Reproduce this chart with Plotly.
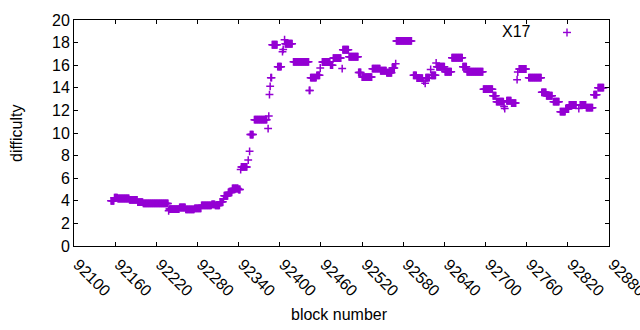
import plotly.graph_objects as go

# Runs of consecutive blocks sharing the same difficulty
run_start = [92154, 92159, 92164, 92181, 92193, 92201, 92238, 92239, 92254, 92263,
             92276, 92286, 92301, 92306, 92313, 92318, 92319, 92325, 92331, 92340,
             92343, 92344, 92354, 92356, 92357, 92363, 92383, 92384, 92385, 92386,
             92387, 92389, 92397, 92404, 92405, 92407, 92408, 92420, 92443, 92445,
             92454, 92459, 92462, 92474, 92478, 92491, 92492, 92501, 92515, 92520,
             92535, 92547, 92556, 92564, 92569, 92570, 92595, 92600, 92610, 92612,
             92613, 92620, 92621, 92628, 92629, 92641, 92651, 92667, 92673, 92697,
             92711, 92716, 92727, 92728, 92731, 92738, 92746, 92747, 92749, 92763,
             92782, 92789, 92799, 92809, 92817, 92822, 92836, 92838, 92847, 92858,
             92864]
run_end = [92158, 92163, 92180, 92192, 92200, 92237, 92238, 92253, 92262, 92275,
           92285, 92300, 92305, 92312, 92317, 92318, 92324, 92330, 92339, 92342,
           92343, 92352, 92354, 92356, 92361, 92381, 92383, 92384, 92385, 92386,
           92388, 92396, 92402, 92404, 92405, 92407, 92418, 92442, 92444, 92453,
           92458, 92459, 92473, 92477, 92489, 92491, 92500, 92514, 92518, 92534,
           92546, 92555, 92563, 92567, 92569, 92592, 92599, 92608, 92610, 92612,
           92618, 92620, 92627, 92628, 92640, 92650, 92666, 92672, 92696, 92710,
           92715, 92726, 92727, 92728, 92737, 92744, 92746, 92747, 92759, 92781,
           92788, 92797, 92807, 92816, 92821, 92832, 92836, 92846, 92856, 92862,
           92872]
run_value = [4.00, 4.28, 4.20, 4.08, 3.88, 3.77, 3.12, 3.27, 3.41, 3.24,
             3.33, 3.59, 3.68, 3.59, 3.91, 4.15, 4.45, 4.74, 5.09, 5.00,
             6.77, 7.00, 7.60, 8.38, 9.86, 11.18, 10.39, 11.50, 13.40, 14.13,
             14.90, 17.81, 15.87, 17.20, 17.40, 18.25, 17.90, 16.30, 13.77, 14.90,
             15.10, 15.75, 16.28, 16.00, 16.63, 15.70, 17.37, 16.75, 15.36, 14.95,
             15.69, 15.51, 15.33, 15.75, 16.13, 18.15, 15.10, 14.86, 14.60, 14.40,
             14.90, 15.63, 15.10, 16.20, 15.86, 15.42, 16.66, 15.86, 15.42, 13.88,
             13.30, 12.77, 12.35, 12.16, 12.85, 12.65, 14.72, 15.40, 15.66, 14.90,
             13.60, 13.30, 12.77, 11.89, 12.12, 12.48, 12.16, 12.48, 12.24, 13.39,
             14.01]

x_ticks = list(range(92100, 92881, 60))
y_ticks = list(range(0, 21, 2))
series_name = "X17"
color = "#9400D3"

blocks, diffs = [], []
for s, e, v in zip(run_start, run_end, run_value):
    for b in range(s, e + 1):
        blocks.append(b)
        diffs.append(v)

fig = go.Figure()
fig.add_trace(go.Scatter(
    x=blocks, y=diffs, mode="markers", name=series_name, showlegend=False,
    marker=dict(symbol="cross-thin", size=5.6, color=color,
                line=dict(color=color, width=1.5)),
))

font = dict(family="Liberation Sans, Arial, sans-serif", size=16, color="black")
L, R, T, B = 74, 31, 19.5, 84
W, H = 640, 330
pw, ph = W - L - R, H - T - B

fig.update_layout(
    width=W, height=H, margin=dict(l=L, r=R, t=T, b=B, autoexpand=False),
    paper_bgcolor="white", plot_bgcolor="white", font=font,
    xaxis=dict(range=[92100, 92880], tickvals=x_ticks, ticktext=[str(t) for t in x_ticks],
               tickangle=45, ticks="inside", ticklen=4, tickcolor="black",
               showline=True, linecolor="black", linewidth=1, mirror="ticks",
               showgrid=False, zeroline=False, tickfont=font, automargin=False,
               ticklabeloverflow="allow", ticklabelshift=4, ticklabelstandoff=2),
    yaxis=dict(range=[0, 20], tickvals=y_ticks, ticks="inside", ticklen=4, tickcolor="black",
               showline=True, linecolor="black", linewidth=1, mirror="ticks",
               showgrid=False, zeroline=False, tickfont=font, automargin=False),
    annotations=[
        dict(text="difficulty", xref="paper", yref="paper", x=(16 - L) / pw, y=0.5,
             textangle=-90, showarrow=False, xanchor="center", yanchor="middle", font=font),
        dict(text="block number", xref="paper", yref="paper", x=(339 - L) / pw,
             y=(H - B - 315) / ph, showarrow=False, xanchor="center", yanchor="middle", font=font),
        dict(text=series_name, xref="paper", yref="paper", x=(533 - L) / pw,
             y=(H - B - 31) / ph, showarrow=False, xanchor="right", yanchor="middle", font=font),
    ],
    shapes=[
        dict(type="line", xref="paper", yref="paper",
             x0=(563 - L) / pw, x1=(571 - L) / pw,
             y0=(H - B - 32) / ph, y1=(H - B - 32) / ph, line=dict(color=color, width=1.4)),
        dict(type="line", xref="paper", yref="paper",
             x0=(567 - L) / pw, x1=(567 - L) / pw,
             y0=(H - B - 28) / ph, y1=(H - B - 36) / ph, line=dict(color=color, width=1.4)),
    ],
)

fig.write_html(
    "out.html",
    config={"displayModeBar": False},
    post_script="document.body.style.margin='0';document.body.style.overflow='hidden';",
)
